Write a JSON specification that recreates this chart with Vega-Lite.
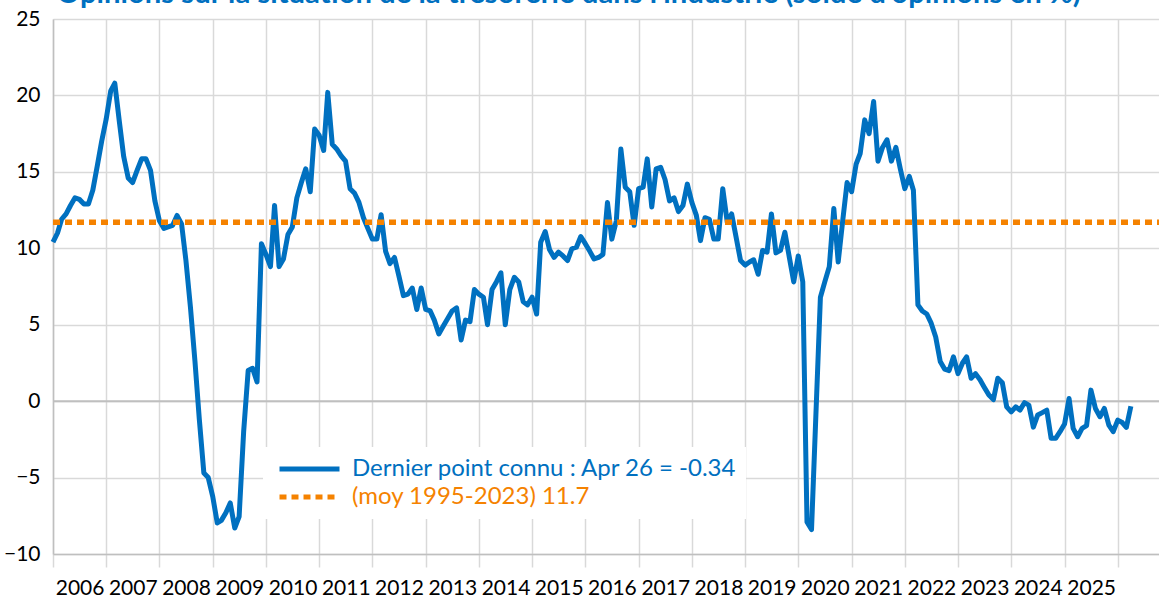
{
  "$schema": "https://vega.github.io/schema/vega-lite/v6.json",
  "width": 1106,
  "height": 535,
  "autosize": {"type": "none"},
  "padding": {"left": 53, "top": 19, "right": 0, "bottom": 44},
  "background": "white",
  "config": {"view": {"stroke": null}},
  "title": {"text": "Opinions sur la situation de la trésorerie dans l'industrie (solde d'opinions en %)", "anchor": "start", "dx": 53, "dy": 24, "offset": 0, "baseline": "alphabetic", "font": "Lato", "fontSize": 29.3, "fontWeight": "bold", "color": "#0070C0"},
  "datasets": {
    "main": [
      {"date":"2006-01-01","value":10.4},{"date":"2006-02-01","value":11.0},{"date":"2006-03-01","value":11.9},{"date":"2006-04-01","value":12.25},{"date":"2006-05-01","value":12.8},{"date":"2006-06-01","value":13.3},{"date":"2006-07-01","value":13.2},{"date":"2006-08-01","value":12.9},{"date":"2006-09-01","value":12.9},{"date":"2006-10-01","value":13.8},{"date":"2006-11-01","value":15.4},{"date":"2006-12-01","value":17.0},
      {"date":"2007-01-01","value":18.45},{"date":"2007-02-01","value":20.3},{"date":"2007-03-01","value":20.8},{"date":"2007-04-01","value":18.3},{"date":"2007-05-01","value":16.0},{"date":"2007-06-01","value":14.6},{"date":"2007-07-01","value":14.3},{"date":"2007-08-01","value":15.1},{"date":"2007-09-01","value":15.85},{"date":"2007-10-01","value":15.85},{"date":"2007-11-01","value":15.1},{"date":"2007-12-01","value":13.1},
      {"date":"2008-01-01","value":11.8},{"date":"2008-02-01","value":11.3},{"date":"2008-03-01","value":11.4},{"date":"2008-04-01","value":11.5},{"date":"2008-05-01","value":12.15},{"date":"2008-06-01","value":11.6},{"date":"2008-07-01","value":9.2},{"date":"2008-08-01","value":6.15},{"date":"2008-09-01","value":2.6},{"date":"2008-10-01","value":-1.2},{"date":"2008-11-01","value":-4.7},{"date":"2008-12-01","value":-5.0},
      {"date":"2009-01-01","value":-6.25},{"date":"2009-02-01","value":-7.97},{"date":"2009-03-01","value":-7.8},{"date":"2009-04-01","value":-7.3},{"date":"2009-05-01","value":-6.66},{"date":"2009-06-01","value":-8.3},{"date":"2009-07-01","value":-7.55},{"date":"2009-08-01","value":-2.0},{"date":"2009-09-01","value":2.0},{"date":"2009-10-01","value":2.15},{"date":"2009-11-01","value":1.26},{"date":"2009-12-01","value":10.3},
      {"date":"2010-01-01","value":9.6},{"date":"2010-02-01","value":8.8},{"date":"2010-03-01","value":12.8},{"date":"2010-04-01","value":8.8},{"date":"2010-05-01","value":9.3},{"date":"2010-06-01","value":10.9},{"date":"2010-07-01","value":11.4},{"date":"2010-08-01","value":13.3},{"date":"2010-09-01","value":14.3},{"date":"2010-10-01","value":15.2},{"date":"2010-11-01","value":13.7},{"date":"2010-12-01","value":17.8},
      {"date":"2011-01-01","value":17.4},{"date":"2011-02-01","value":16.4},{"date":"2011-03-01","value":20.2},{"date":"2011-04-01","value":16.8},{"date":"2011-05-01","value":16.5},{"date":"2011-06-01","value":16.05},{"date":"2011-07-01","value":15.7},{"date":"2011-08-01","value":13.9},{"date":"2011-09-01","value":13.6},{"date":"2011-10-01","value":13.0},{"date":"2011-11-01","value":12.0},{"date":"2011-12-01","value":11.3},
      {"date":"2012-01-01","value":10.6},{"date":"2012-02-01","value":10.6},{"date":"2012-03-01","value":12.2},{"date":"2012-04-01","value":9.8},{"date":"2012-05-01","value":9.0},{"date":"2012-06-01","value":9.4},{"date":"2012-07-01","value":8.2},{"date":"2012-08-01","value":6.9},{"date":"2012-09-01","value":7.0},{"date":"2012-10-01","value":7.4},{"date":"2012-11-01","value":6.0},{"date":"2012-12-01","value":7.4},
      {"date":"2013-01-01","value":6.0},{"date":"2013-02-01","value":5.9},{"date":"2013-03-01","value":5.3},{"date":"2013-04-01","value":4.4},{"date":"2013-05-01","value":4.9},{"date":"2013-06-01","value":5.4},{"date":"2013-07-01","value":5.9},{"date":"2013-08-01","value":6.1},{"date":"2013-09-01","value":4.0},{"date":"2013-10-01","value":5.3},{"date":"2013-11-01","value":5.2},{"date":"2013-12-01","value":7.3},
      {"date":"2014-01-01","value":7.0},{"date":"2014-02-01","value":6.8},{"date":"2014-03-01","value":5.0},{"date":"2014-04-01","value":7.3},{"date":"2014-05-01","value":7.8},{"date":"2014-06-01","value":8.4},{"date":"2014-07-01","value":5.0},{"date":"2014-08-01","value":7.3},{"date":"2014-09-01","value":8.1},{"date":"2014-10-01","value":7.8},{"date":"2014-11-01","value":6.5},{"date":"2014-12-01","value":6.3},
      {"date":"2015-01-01","value":6.8},{"date":"2015-02-01","value":5.7},{"date":"2015-03-01","value":10.4},{"date":"2015-04-01","value":11.1},{"date":"2015-05-01","value":9.9},{"date":"2015-06-01","value":9.4},{"date":"2015-07-01","value":9.75},{"date":"2015-08-01","value":9.5},{"date":"2015-09-01","value":9.2},{"date":"2015-10-01","value":9.97},{"date":"2015-11-01","value":10.07},{"date":"2015-12-01","value":10.77},
      {"date":"2016-01-01","value":10.3},{"date":"2016-02-01","value":9.8},{"date":"2016-03-01","value":9.3},{"date":"2016-04-01","value":9.4},{"date":"2016-05-01","value":9.6},{"date":"2016-06-01","value":13.0},{"date":"2016-07-01","value":10.6},{"date":"2016-08-01","value":11.8},{"date":"2016-09-01","value":16.5},{"date":"2016-10-01","value":14.0},{"date":"2016-11-01","value":13.7},{"date":"2016-12-01","value":11.5},
      {"date":"2017-01-01","value":13.9},{"date":"2017-02-01","value":14.0},{"date":"2017-03-01","value":15.85},{"date":"2017-04-01","value":12.7},{"date":"2017-05-01","value":15.2},{"date":"2017-06-01","value":15.3},{"date":"2017-07-01","value":14.5},{"date":"2017-08-01","value":13.1},{"date":"2017-09-01","value":13.3},{"date":"2017-10-01","value":12.4},{"date":"2017-11-01","value":12.8},{"date":"2017-12-01","value":14.2},
      {"date":"2018-01-01","value":13.0},{"date":"2018-02-01","value":12.15},{"date":"2018-03-01","value":10.5},{"date":"2018-04-01","value":12.0},{"date":"2018-05-01","value":11.9},{"date":"2018-06-01","value":10.6},{"date":"2018-07-01","value":10.6},{"date":"2018-08-01","value":13.9},{"date":"2018-09-01","value":11.7},{"date":"2018-10-01","value":12.25},{"date":"2018-11-01","value":10.7},{"date":"2018-12-01","value":9.2},
      {"date":"2019-01-01","value":8.9},{"date":"2019-02-01","value":9.1},{"date":"2019-03-01","value":9.25},{"date":"2019-04-01","value":8.3},{"date":"2019-05-01","value":9.86},{"date":"2019-06-01","value":9.75},{"date":"2019-07-01","value":12.25},{"date":"2019-08-01","value":9.7},{"date":"2019-09-01","value":9.86},{"date":"2019-10-01","value":11.05},{"date":"2019-11-01","value":9.4},{"date":"2019-12-01","value":7.8},
      {"date":"2020-01-01","value":9.5},{"date":"2020-02-01","value":7.8},{"date":"2020-03-01","value":-7.9},{"date":"2020-04-01","value":-8.4},{"date":"2020-05-01","value":-0.9},{"date":"2020-06-01","value":6.8},{"date":"2020-07-01","value":7.8},{"date":"2020-08-01","value":8.8},{"date":"2020-09-01","value":12.6},{"date":"2020-10-01","value":9.1},{"date":"2020-11-01","value":11.8},{"date":"2020-12-01","value":14.3},
      {"date":"2021-01-01","value":13.7},{"date":"2021-02-01","value":15.5},{"date":"2021-03-01","value":16.2},{"date":"2021-04-01","value":18.4},{"date":"2021-05-01","value":17.5},{"date":"2021-06-01","value":19.6},{"date":"2021-07-01","value":15.7},{"date":"2021-08-01","value":16.6},{"date":"2021-09-01","value":17.1},{"date":"2021-10-01","value":15.7},{"date":"2021-11-01","value":16.6},{"date":"2021-12-01","value":15.2},
      {"date":"2022-01-01","value":13.9},{"date":"2022-02-01","value":14.7},{"date":"2022-03-01","value":13.8},{"date":"2022-04-01","value":6.3},{"date":"2022-05-01","value":5.9},{"date":"2022-06-01","value":5.7},{"date":"2022-07-01","value":5.1},{"date":"2022-08-01","value":4.2},{"date":"2022-09-01","value":2.6},{"date":"2022-10-01","value":2.1},{"date":"2022-11-01","value":2.0},{"date":"2022-12-01","value":2.9},
      {"date":"2023-01-01","value":1.8},{"date":"2023-02-01","value":2.5},{"date":"2023-03-01","value":2.9},{"date":"2023-04-01","value":1.5},{"date":"2023-05-01","value":1.8},{"date":"2023-06-01","value":1.4},{"date":"2023-07-01","value":0.9},{"date":"2023-08-01","value":0.4},{"date":"2023-09-01","value":0.1},{"date":"2023-10-01","value":1.5},{"date":"2023-11-01","value":1.2},{"date":"2023-12-01","value":-0.37},
      {"date":"2024-01-01","value":-0.7},{"date":"2024-02-01","value":-0.37},{"date":"2024-03-01","value":-0.59},{"date":"2024-04-01","value":-0.1},{"date":"2024-05-01","value":-0.26},{"date":"2024-06-01","value":-1.7},{"date":"2024-07-01","value":-0.9},{"date":"2024-08-01","value":-0.75},{"date":"2024-09-01","value":-0.59},{"date":"2024-10-01","value":-2.43},{"date":"2024-11-01","value":-2.43},{"date":"2024-12-01","value":-2.0},
      {"date":"2025-01-01","value":-1.5},{"date":"2025-02-01","value":0.17},{"date":"2025-03-01","value":-1.78},{"date":"2025-04-01","value":-2.33},{"date":"2025-05-01","value":-1.78},{"date":"2025-06-01","value":-1.6},{"date":"2025-07-01","value":0.72},{"date":"2025-08-01","value":-0.48},{"date":"2025-09-01","value":-1.02},{"date":"2025-10-01","value":-0.48},{"date":"2025-11-01","value":-1.57},{"date":"2025-12-01","value":-2.0},
      {"date":"2026-01-01","value":-1.24},{"date":"2026-02-01","value":-1.4},{"date":"2026-03-01","value":-1.72},{"date":"2026-04-01","value":-0.34}
    ],
    "mean": [
      {"date":"2006-01-01","value":11.7},{"date":"2026-10-11","value":11.7}
    ]
  },
  "layer": [
    {
      "data": {"values": [{"zero": 0}]},
      "mark": {"type": "rule", "color": "#bfbfbf", "strokeWidth": 2},
      "encoding": {"y": {"field": "zero", "type": "quantitative"}}
    },
    {
      "data": {"name": "main"},
      "mark": {"type": "line", "strokeWidth": 5, "strokeJoin": "round", "strokeCap": "butt"},
      "encoding": {
        "x": {"field": "date", "type": "temporal",
          "scale": {"type": "utc", "domain": [{"year": 2006, "month": 1, "date": 1, "utc": true}, {"year": 2026, "month": 10, "date": 11, "utc": true}]},
          "axis": {"title": null, "tickCount": {"interval": "year", "step": 1}, "labelExpr": "utcyear(datum.value) > 2025 ? '' : utcFormat(datum.value, '%Y')", "labelOffset": 26.6, "grid": true, "gridColor": "#d9d9d9", "gridWidth": 1.5, "tickColor": "#d9d9d9", "tickWidth": 1.5, "tickSize": 13, "domainColor": "#bfbfbf", "domainWidth": 1.5, "labelFont": "Lato", "labelFontSize": 21, "labelColor": "#000000", "labelPadding": 10, "labelOverlap": false, "labelFlush": false, "labelBound": false}},
        "y": {"field": "value", "type": "quantitative",
          "scale": {"domain": [-10, 25], "nice": false, "zero": false},
          "axis": {"title": null, "values": [-10, -5, 0, 5, 10, 15, 20, 25], "grid": true, "gridColor": "#d9d9d9", "gridWidth": 1.5, "ticks": false, "domainColor": "#bfbfbf", "domainWidth": 1.5, "labelFont": "Lato", "labelFontSize": 21, "labelColor": "#000000", "labelPadding": 13}},
        "color": {"datum": "Dernier point connu : Apr 26 = -0.34", "type": "nominal",
          "scale": {"domain": ["Dernier point connu : Apr 26 = -0.34", "(moy 1995-2023) 11.7"], "range": ["#0070C0", "#F58200"]},
          "legend": {"title": null, "orient": "none", "legendX": 210, "legendY": 428, "fillColor": "white", "padding": 8, "symbolType": "stroke", "symbolSize": 3600, "symbolStrokeWidth": 5, "clipHeight": 28, "symbolOffset": 6, "labelOffset": 10, "labelFont": "Lato", "labelFontSize": 24, "labelLimit": 0, "rowPadding": 0,
            "encode": {
              "labels": {"update": {"fill": {"signal": "indexof(datum.label, 'moy') >= 0 ? '#F58200' : '#0070C0'"}}},
              "symbols": {"update": {"strokeDash": {"signal": "indexof(datum.label, 'moy') >= 0 ? [7, 5] : [1, 0]"}, "strokeCap": {"value": "butt"}}}
            }}
        }
      }
    },
    {
      "data": {"name": "mean"},
      "mark": {"type": "line", "strokeWidth": 5.5, "strokeDash": [7, 5], "strokeCap": "butt"},
      "encoding": {
        "x": {"field": "date", "type": "temporal"},
        "y": {"field": "value", "type": "quantitative"},
        "color": {"datum": "(moy 1995-2023) 11.7", "type": "nominal"}
      }
    }
  ]
}
